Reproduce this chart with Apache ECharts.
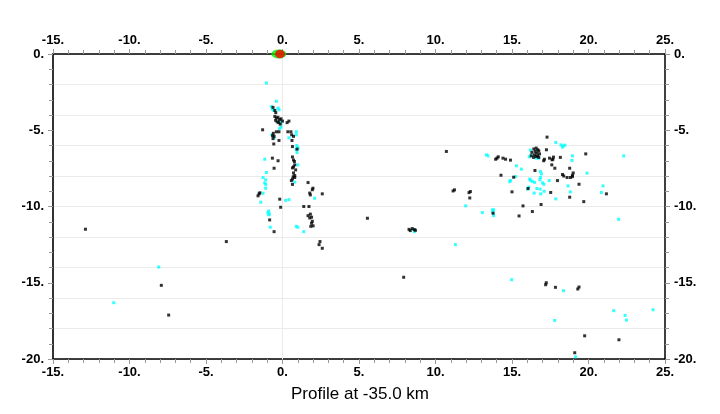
<!DOCTYPE html>
<html>
<head>
<meta charset="utf-8">
<script src="https://cdn.jsdelivr.net/npm/echarts@6/dist/echarts.min.js"></script>
<style>html,body{margin:0;padding:0;background:#fff;}#c{width:720px;height:414px;}</style>
</head>
<body>
<div id="c"></div>
<script>
var titleText = 'Profile at -35.0 km';
var xTicks = [-15, -10, -5, 0, 5, 10, 15, 20, 25];
var yTicks = [0, -5, -10, -15, -20];
var sourceGreen = [[-0.24, 0]];
var sourceRed = [[-0.16, 0]];
var blackPts = [
[-0.62,-3.5],[-0.5,-3.7],[-0.44,-3.85],
[-0.5,-4.1],[-0.4,-4.2],[-0.3,-4.15],[-0.2,-4.3],[-0.45,-4.35],[-0.35,-4.45],[-0.1,-4.25],[-0.25,-4.5],[0.0,-4.4],[-0.15,-4.6],
[0.3,-4.5],[0.42,-4.4],[-1.3,-4.97],
[-0.23,-5.1],[-0.4,-5.1],[-0.6,-5.2],[-0.65,-5.35],[-0.55,-5.4],[-0.62,-5.55],
[0.35,-5.1],[0.55,-5.1],[0.6,-5.3],[0.72,-5.4],[0.62,-5.67],
[-0.23,-5.67],[-0.57,-5.9],[0.65,-6.07],[0.95,-6.24],
[-0.66,-6.83],[-0.29,-7.0],[0.65,-6.75],[0.72,-6.95],[0.78,-7.05],
[0.8,-7.27],[0.72,-7.4],[0.65,-7.47],[-0.55,-7.49],[0.86,-7.6],
[0.72,-7.8],[0.8,-7.97],[0.7,-8.05],[0.8,-8.1],[0.65,-8.2],[0.58,-8.3],[0.65,-8.55],
[-1.53,-9.17],[-1.6,-9.3],[-1.48,-9.1],
[-0.18,-9.52],[-0.12,-10.05],
[1.67,-8.43],[1.99,-8.8],[1.95,-8.9],[1.78,-9.12],[1.82,-9.24],
[2.6,-9.17],[1.39,-10.0],[1.73,-10.0],
[1.82,-10.5],[1.67,-10.6],[1.78,-10.75],[1.9,-10.7],[1.95,-10.97],[1.9,-11.1],[2.0,-11.27],[1.85,-11.3],
[-0.84,-10.88],[-0.55,-11.65],
[2.45,-12.3],[2.39,-12.5],[2.6,-12.74],
[10.71,-6.39],[17.29,-5.45],
[13.93,-6.9],[14.02,-6.83],[14.1,-6.74],[14.41,-6.83],[14.58,-6.9],[14.9,-6.96],
[16.43,-6.23],[16.58,-6.17],[16.68,-6.28],[16.52,-6.39],[16.3,-6.45],[16.62,-6.5],[16.47,-6.61],[16.58,-6.72],[16.68,-6.68],[16.75,-6.78],[16.26,-6.68],[16.41,-6.78],[16.75,-6.35],[16.8,-6.55],
[17.25,-6.28],
[17.07,-7.0],[17.12,-6.9],[17.45,-6.83],[17.67,-6.9],[17.71,-6.76],[17.62,-6.94],[18.16,-6.78],
[19.82,-6.55],
[17.6,-7.27],[17.8,-7.49],[18.77,-7.49],[16.5,-7.64],
[14.28,-7.95],[15.11,-8.08],
[18.3,-7.9],[18.38,-8.0],[18.6,-8.1],[18.82,-8.1],[18.95,-8.04],[19.0,-7.8],[18.95,-7.95],
[17.97,-8.3],[19.38,-8.54],[21.17,-9.17],
[11.15,-8.98],[11.24,-8.91],[12.19,-9.09],[12.28,-9.02],[12.24,-9.44],
[15.0,-9.04],[16.05,-8.82],[17.53,-9.08],[18.77,-9.39],[19.69,-9.68],[16.9,-9.87],[15.72,-9.96],[16.33,-10.33],[13.76,-10.44],[15.46,-10.62],
[-12.88,-11.49],[-3.67,-12.3],[-7.92,-15.17],[-7.44,-17.12],
[8.27,-11.5],[8.35,-11.58],[8.48,-11.45],[8.62,-11.52],[8.69,-11.56],[7.92,-14.64],
[17.24,-15.0],[17.2,-15.13],[17.84,-15.3],[19.38,-15.28],[19.3,-15.41],
[19.75,-18.48],[21.99,-18.74],[19.1,-19.59],[5.55,-10.77]
];
var cyanPts = [
[-1.05,-1.9],[-0.4,-3.1],[-0.73,-3.45],[-0.66,-3.62],[-0.57,-3.7],[-0.29,-3.55],[-0.23,-3.66],
[-0.2,-4.45],[-0.1,-4.55],[-0.1,-4.8],[-0.2,-4.9],
[-0.7,-5.3],[-0.55,-5.5],
[0.9,-5.1],[0.9,-5.3],[0.42,-5.5],
[0.93,-6.0],[1.0,-6.15],[0.9,-6.25],[1.0,-6.2],[0.95,-6.46],
[-1.16,-6.9],[1.0,-7.27],[-1.05,-7.77],
[-1.27,-8.1],[-1.1,-8.25],[-1.16,-8.45],[-1.1,-8.55],[0.8,-8.4],
[-1.1,-8.8],[-1.27,-9.13],
[-1.42,-9.72],[0.2,-9.6],[0.42,-9.55],[2.1,-9.46],
[-0.9,-10.3],[-0.86,-10.5],[-0.9,-10.55],[-0.95,-10.4],
[-0.8,-11.36],[0.9,-11.3],[1.0,-11.36],[1.39,-11.65],
[17.86,-5.8],[18.2,-5.96],[18.35,-6.03],[18.46,-5.98],[18.3,-6.1],
[13.33,-6.61],[13.43,-6.68],
[16.2,-6.3],[16.13,-6.74],[16.24,-6.62],[16.58,-6.83],[16.73,-6.83],
[18.95,-6.68],[18.92,-6.98],[22.3,-6.68],
[15.29,-7.33],[15.61,-7.55],
[16.86,-7.71],[16.92,-7.86],[19.9,-7.81],
[15.24,-8.04],[14.9,-8.3],[14.85,-8.37],
[16.16,-8.2],[16.2,-8.28],[16.33,-8.35],[16.48,-8.42],[16.86,-8.1],[16.82,-8.24],[17.0,-8.45],[17.08,-8.54],[17.43,-8.3],
[18.66,-8.65],[20.95,-8.65],[20.84,-9.08],
[16.1,-8.73],[16.02,-8.86],[16.45,-9.12],[16.63,-8.82],[16.84,-8.86],[16.88,-9.17],[17.1,-9.0],
[18.81,-9.04],[17.86,-9.5],
[11.97,-9.96],[13.06,-10.4],[13.72,-10.22],[13.8,-10.22],[13.76,-10.4],[13.8,-10.6],
[21.97,-10.84],
[-8.09,-13.97],[-11.03,-16.31],
[8.62,-11.65],[8.55,-11.5],[11.3,-12.5],[14.98,-14.8],[18.36,-15.52],[17.79,-17.47],
[21.65,-16.83],[22.39,-17.14],[22.48,-17.45],[24.22,-16.77],[19.16,-19.86]
];

var labelFont = {fontFamily: 'Liberation Sans, Arial, sans-serif', fontWeight: 'bold', fontSize: 13, color: '#000'};
function fmt(v){ return v + '.'; }
function xAx(pos){
  return {
    type: 'value', position: pos, min: xTicks[0], max: xTicks[xTicks.length-1], interval: 5,
    axisLine: {show: true, onZero: false, lineStyle: {color: '#000', width: 1.5}},
    axisTick: {show: true, inside: false, length: 5, lineStyle: {color: '#999'}},
    minorTick: {show: true, splitNumber: 5, length: 4, lineStyle: {color: '#999'}},
    splitLine: {show: false},
    axisLabel: Object.assign({formatter: fmt, margin: 7}, labelFont)
  };
}
function yAx(pos){
  return {
    type: 'value', position: pos, min: yTicks[yTicks.length-1], max: yTicks[0], interval: 5,
    axisLine: {show: true, onZero: false, lineStyle: {color: pos === 'left' ? '#333' : '#000', width: pos === 'left' ? 2 : 1.5}},
    axisTick: {show: true, inside: false, length: 5, lineStyle: {color: '#999'}},
    minorTick: {show: true, splitNumber: 5, length: 4, lineStyle: {color: '#999'}},
    splitLine: {show: false},
    axisLabel: Object.assign({formatter: fmt, margin: 9}, labelFont)
  };
}
var gridY = {
  type: 'value', min: -20, max: 0, interval: 2, show: true, position: 'left',
  axisLine: {show: false}, axisTick: {show: false}, axisLabel: {show: false},
  splitLine: {show: true, lineStyle: {color: '#ebebeb', width: 1}}
};

var chart = echarts.init(document.getElementById('c'), null, {renderer: 'canvas'});
chart.setOption({
  animation: false,
  backgroundColor: '#fff',
  title: {
    text: titleText, left: 'center', top: 381,
    textStyle: {fontFamily: 'Liberation Sans, Arial, sans-serif', fontWeight: 'normal', fontSize: 17, color: '#000'}
  },
  grid: {left: 53, right: 55, top: 54, bottom: 55, containLabel: false},
  xAxis: [xAx('bottom'), xAx('top')],
  yAxis: [gridY, yAx('left'), yAx('right')],
  series: [
    {
      type: 'scatter', xAxisIndex: 0, yAxisIndex: 1, data: cyanPts, symbol: 'rect', symbolSize: 3,
      itemStyle: {color: '#00ffff'}, silent: true, z: 2,
      markLine: {silent: true, symbol: 'none', label: {show: false},
        lineStyle: {color: '#ebebeb', type: 'solid', width: 1}, data: [{xAxis: 0}], z: 1}
    },
    {
      type: 'scatter', xAxisIndex: 0, yAxisIndex: 1, data: blackPts, symbol: 'rect', symbolSize: 3,
      itemStyle: {color: '#000000'}, silent: true, z: 3
    },
    {
      type: 'scatter', xAxisIndex: 0, yAxisIndex: 1, data: sourceGreen, symbol: 'circle', symbolSize: [15, 9],
      itemStyle: {color: '#00ee00'}, silent: true, clip: false, z: 10
    },
    {
      type: 'scatter', xAxisIndex: 0, yAxisIndex: 1, data: sourceRed, symbol: 'circle', symbolSize: [10, 8.5],
      itemStyle: {color: '#ff0000'}, silent: true, clip: false, z: 11
    }
  ]
});
</script>
</body>
</html>
